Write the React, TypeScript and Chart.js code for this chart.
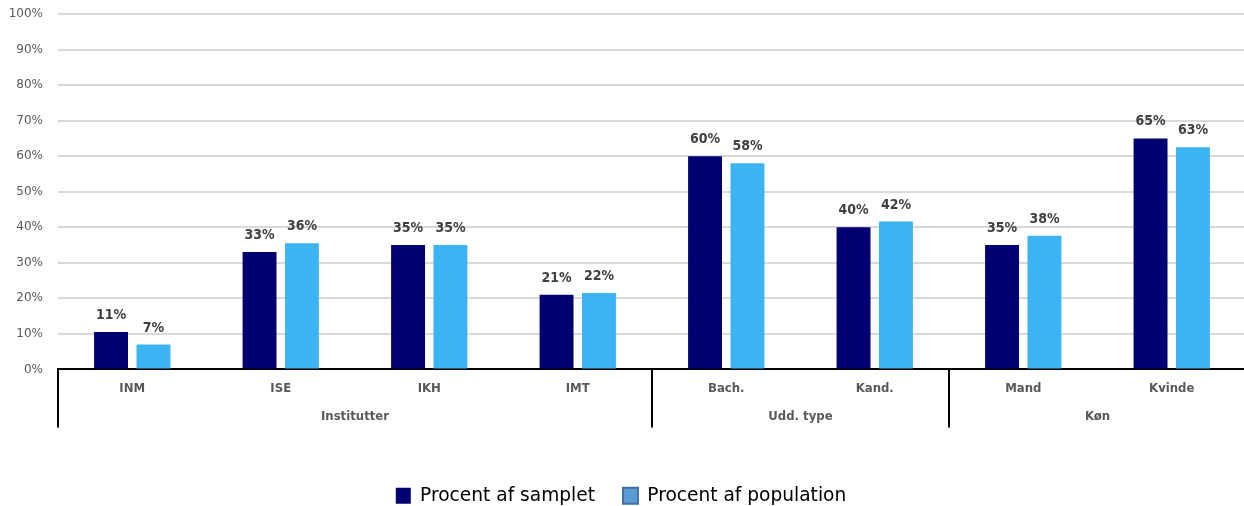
import React, { useEffect, useRef } from "react";
import { Chart, registerables } from "chart.js";

Chart.register(...registerables);

const categories = ["INM", "ISE", "IKH", "IMT", "Bach.", "Kand.", "Mand", "Kvinde"];
const groupNames = ["Institutter", "Udd. type", "Køn"];
const groupSizes = [4, 2, 2];
const sampleValues = [10.5, 33, 35, 21, 60, 40, 35, 65];
const populationValues = [7, 35.5, 35, 21.5, 58, 41.6, 37.6, 62.5];
const seriesNames = ["Procent af samplet", "Procent af population"];
const yMax = 100;
const yStep = 10;

const DARK = "#000073";
const LIGHT = "#3CB4F4";
const COND = "'DejaVu Sans Condensed', 'Liberation Sans Narrow', sans-serif";

const groupPlugin = {
  id: "groupLabels",
  afterDraw(chart: any) {
    const { ctx, chartArea, scales } = chart;
    const x = scales.x;
    const bottom = chartArea.bottom;
    ctx.save();
    ctx.strokeStyle = "#000";
    ctx.lineWidth = 2;
    ctx.fillStyle = "#595959";
    ctx.font = `bold 13px ${COND}`;
    ctx.textAlign = "center";
    ctx.textBaseline = "middle";
    let start = 0;
    groupSizes.forEach((size, gi) => {
      const left =
        start === 0
          ? chartArea.left
          : (x.getPixelForValue(start - 1) + x.getPixelForValue(start)) / 2;
      ctx.beginPath();
      ctx.moveTo(Math.round(left), bottom);
      ctx.lineTo(Math.round(left), bottom + 58);
      ctx.stroke();
      const end = start + size - 1;
      const cx = (x.getPixelForValue(start) + x.getPixelForValue(end)) / 2;
      ctx.fillText(groupNames[gi], cx, bottom + 47);
      start += size;
    });
    ctx.restore();
  },
};

const valueLabelPlugin = {
  id: "valueLabels",
  afterDatasetsDraw(chart: any) {
    const { ctx } = chart;
    ctx.save();
    ctx.fillStyle = "#404040";
    ctx.font = `bold 14px ${COND}`;
    ctx.textAlign = "center";
    ctx.textBaseline = "alphabetic";
    chart.data.datasets.forEach((ds: any, di: number) => {
      const meta = chart.getDatasetMeta(di);
      meta.data.forEach((el: any, i: number) => {
        const v = ds.data[i];
        ctx.fillText(`${Math.round(v)}%`, el.x, el.y - 13);
      });
    });
    ctx.restore();
  },
};

const legendShiftPlugin = {
  id: "legendShift",
  afterLayout(chart: any) {
    const lg = chart.legend;
    if (lg) {
      lg.left -= 6;
      lg.right -= 6;
    }
  },
};

export default function App() {
  const canvasRef = useRef<HTMLCanvasElement | null>(null);

  useEffect(() => {
    if (!canvasRef.current) return;
    const chart = new Chart(canvasRef.current, {
      type: "bar",
      data: {
        labels: categories,
        datasets: [
          {
            label: seriesNames[0],
            data: sampleValues,
            backgroundColor: DARK,
            categoryPercentage: 0.571,
            barPercentage: 0.8,
          },
          {
            label: seriesNames[1],
            data: populationValues,
            backgroundColor: LIGHT,
            categoryPercentage: 0.571,
            barPercentage: 0.8,
          },
        ],
      },
      options: {
        animation: false,
        responsive: true,
        maintainAspectRatio: false,
        layout: { padding: { left: 8, top: 14, right: 0, bottom: 1 } },
        plugins: {
          tooltip: { enabled: false },
          legend: {
            position: "bottom",
            labels: {
              boxWidth: 15,
              boxHeight: 16,
              padding: 28,
              color: "#1a1a1a",
              font: { family: "'DejaVu Sans', Verdana, sans-serif", size: 18.6 },
              generateLabels: () => [
                {
                  text: seriesNames[0],
                  fillStyle: DARK,
                  strokeStyle: DARK,
                  lineWidth: 0,
                  hidden: false,
                  datasetIndex: 0,
                },
                {
                  text: seriesNames[1],
                  fillStyle: "#5B9BD5",
                  strokeStyle: "#41719C",
                  lineWidth: 2,
                  hidden: false,
                  datasetIndex: 1,
                },
              ],
            },
          },
        },
        scales: {
          x: {
            grid: { display: false, drawTicks: false },
            border: { display: true, color: "#000", width: 2 },
            ticks: {
              color: "#595959",
              font: { family: COND, size: 13, weight: "bold" },
              padding: 11,
              maxRotation: 0,
              autoSkip: false,
            },
            afterFit: (s: any) => {
              s.height = 89;
              s.paddingLeft = 0;
              s.paddingRight = 0;
            },
          },
          y: {
            min: 0,
            max: yMax,
            ticks: {
              stepSize: yStep,
              color: "#595959",
              font: { family: "'DejaVu Sans', Verdana, sans-serif", size: 12 },
              padding: 15,
              callback: (v: any) => `${v}%`,
            },
            grid: { color: "#d9d9d9", lineWidth: 2, drawTicks: false },
            border: { display: false },
            afterFit: (s: any) => {
              s.width = 50;
              s.paddingTop = 0;
              s.paddingBottom = 0;
            },
          },
        },
      },
      plugins: [groupPlugin, valueLabelPlugin, legendShiftPlugin],
    });
    return () => chart.destroy();
  }, []);

  return (
    <div style={{ position: "fixed", left: 0, top: 0, width: 1246, height: 516, background: "#fff" }}>
      <canvas ref={canvasRef} />
    </div>
  );
}
